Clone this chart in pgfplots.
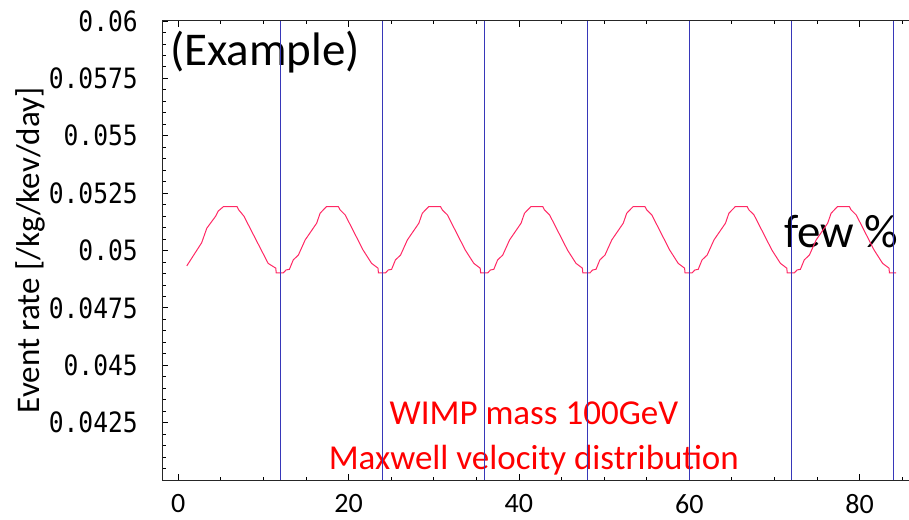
\documentclass[border=0pt]{standalone}
\usepackage{fontspec}
\setmainfont{Carlito}
\newfontfamily\monofont[FakeStretch=0.88]{DejaVu Sans Mono}
\usepackage{pgfplots}
\pgfplotsset{compat=1.18}
\definecolor{curvecol}{RGB}{255,40,100}
\definecolor{linecol}{RGB}{55,55,185}
\begin{document}
\begin{tikzpicture}
\begin{axis}[
  name=ax,
  set layers,
  scale only axis,
  width=747pt, height=459pt,
  xmin=-1.91, xmax=85.8,
  ymin=0.04, ymax=0.06,
  axis y line*=left,
  axis line style={line width=1pt, black!85},
  tick align=inside,
  tick style={line width=0.8pt, black},
  major tick length=6pt,
  minor tick length=3.5pt,
  scaled ticks=false,
  xtick={0,20,40,60,80},
  xticklabels={0,20,40,60,80},
  minor xtick={5,10,15,25,30,35,45,50,55,65,70,75,85},
  ytick={0.0425,0.045,0.0475,0.05,0.0525,0.055,0.0575,0.06},
  yticklabels={0.0425,0.045,0.0475,0.05,0.0525,0.055,0.0575,0.06},
  minor ytick={0.0405,0.041,0.0415,0.042,0.043,0.0435,0.044,0.0445,0.0455,0.046,0.0465,0.047,0.048,0.0485,0.049,0.0495,0.0505,0.051,0.0515,0.052,0.053,0.0535,0.054,0.0545,0.0555,0.056,0.0565,0.057,0.058,0.0585,0.059,0.0595},
  xticklabel style={font=\fontsize{28}{28}\selectfont, anchor=north, inner sep=0pt, yshift=-14pt},
  yticklabel style={font=\monofont\fontsize{28}{28}\selectfont, anchor=east, inner sep=0pt, xshift=-24pt},
  ylabel={Event rate [/kg/kev/day]},
  every axis y label/.style={at={(rel axis cs:0,0.5)}, rotate=90, anchor=base, yshift=122pt, font=\fontsize{33}{33}\selectfont},
]
\begin{pgfonlayer}{axis background}
\node[anchor=base west, inner sep=0pt, font=\fontsize{47}{47}\selectfont] at (axis cs:-0.97,0.05808) {(Example)};
\node[anchor=base west, inner sep=0pt, font=\fontsize{47}{47}\selectfont] at (axis cs:71.1,0.05011) {few \%};
\node[anchor=base, inner sep=0pt, text=red, font=\fontsize{35}{35}\selectfont] at (axis cs:41.75,0.04240) {WIMP mass 100GeV};
\node[anchor=base, inner sep=0pt, text=red, font=\fontsize{35}{35}\selectfont] at (axis cs:41.75,0.04044) {Maxwell velocity distribution};
\end{pgfonlayer}
\addplot[color=curvecol, line width=1pt, no markers] table {
x y
1.0 0.04933
2.75 0.05034
3.35 0.05097
4.4 0.05150
4.7 0.05172
5.3 0.05191
6.9 0.05191
7.1 0.05177
7.7 0.05150
10.55 0.04944
11.45 0.04923
11.5 0.04903
12.35 0.04903
12.65 0.04915
13.05 0.04918
13.5 0.04959
14.1 0.04980
14.9 0.05046
16.25 0.05119
16.65 0.05162
16.9 0.05172
17.4 0.05191
18.8 0.05191
19.0 0.05177
19.6 0.05155
21.7 0.05002
22.7 0.04944
23.45 0.04923
23.5 0.04903
24.35 0.04903
24.65 0.04915
25.05 0.04918
25.5 0.04959
26.1 0.04980
26.9 0.05046
28.25 0.05119
28.65 0.05162
28.9 0.05172
29.4 0.05191
30.8 0.05191
31.0 0.05177
31.6 0.05155
33.7 0.05002
34.7 0.04944
35.45 0.04923
35.5 0.04903
36.35 0.04903
36.65 0.04915
37.05 0.04918
37.5 0.04959
38.1 0.04980
38.9 0.05046
40.25 0.05119
40.65 0.05162
40.9 0.05172
41.4 0.05191
42.8 0.05191
43.0 0.05177
43.6 0.05155
45.7 0.05002
46.7 0.04944
47.45 0.04923
47.5 0.04903
48.35 0.04903
48.65 0.04915
49.05 0.04918
49.5 0.04959
50.1 0.04980
50.9 0.05046
52.25 0.05119
52.65 0.05162
52.9 0.05172
53.4 0.05191
54.8 0.05191
55.0 0.05177
55.6 0.05155
57.7 0.05002
58.7 0.04944
59.45 0.04923
59.5 0.04903
60.35 0.04903
60.65 0.04915
61.05 0.04918
61.5 0.04959
62.1 0.04980
62.9 0.05046
64.25 0.05119
64.65 0.05162
64.9 0.05172
65.4 0.05191
66.8 0.05191
67.0 0.05177
67.6 0.05155
69.7 0.05002
70.7 0.04944
71.45 0.04923
71.5 0.04903
72.35 0.04903
72.65 0.04915
73.05 0.04918
73.5 0.04959
74.1 0.04980
74.9 0.05046
76.25 0.05119
76.65 0.05162
76.9 0.05172
77.4 0.05191
78.8 0.05191
79.0 0.05177
79.6 0.05155
81.7 0.05002
82.7 0.04944
83.45 0.04923
83.5 0.04903
84.3 0.04903
};
\addplot[color=linecol, line width=1.1pt, no markers] coordinates {(12,0.04) (12,0.06)};
\addplot[color=linecol, line width=1.1pt, no markers] coordinates {(24,0.04) (24,0.06)};
\addplot[color=linecol, line width=1.1pt, no markers] coordinates {(36,0.04) (36,0.06)};
\addplot[color=linecol, line width=1.1pt, no markers] coordinates {(48,0.04) (48,0.06)};
\addplot[color=linecol, line width=1.1pt, no markers] coordinates {(60,0.04) (60,0.06)};
\addplot[color=linecol, line width=1.1pt, no markers] coordinates {(72,0.04) (72,0.06)};
\addplot[color=linecol, line width=1.1pt, no markers] coordinates {(84,0.04) (84,0.06)};
\end{axis}
\pgfresetboundingbox
\path (ax.south west) ++(-162pt,-39pt) rectangle ++(909pt,519pt);
\end{tikzpicture}
\end{document}
